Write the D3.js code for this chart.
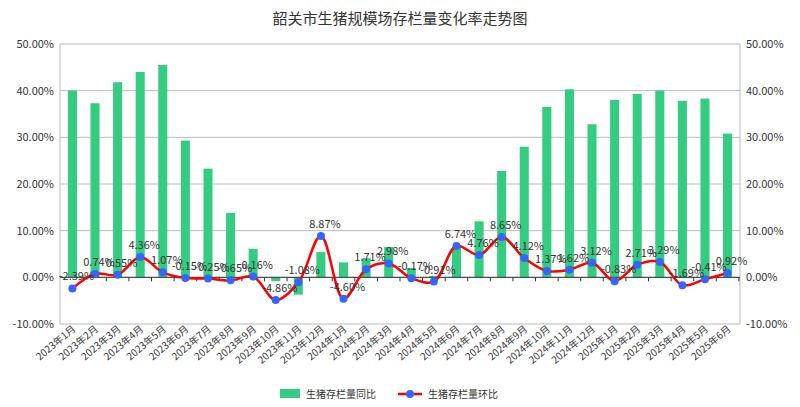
<!DOCTYPE html>
<html><head><meta charset="utf-8">
<script src="https://cdn.jsdelivr.net/npm/d3@7"></script>
<style>body{margin:0;background:#fff;font-family:"Noto Sans CJK SC","DejaVu Sans",sans-serif}</style>
</head><body><svg id="c" width="800" height="407"></svg>
<script>
const months = [];
for (const y of [2023, 2024, 2025]) for (let m = 1; m <= 12; m++) if (!(y === 2025 && m > 6)) months.push(`${y}年${m}月`);
const yoy = [40, 37.3, 41.8, 44, 45.5, 29.3, 23.3, 13.8, 6.1, -0.8, -3.7, 5.4, 3.2, 4.1, 6.5, 2.0, 0.3, 6.5, 12, 22.8, 28, 36.5, 40.3, 32.8, 38, 39.3, 40, 37.8, 38.3, 30.8];
const mom = [-2.39, 0.74, 0.55, 4.36, 1.07, -0.15, -0.25, -0.65, 0.16, -4.86, -1.08, 8.87, -4.60, 1.71, 2.98, -0.17, -0.91, 6.74, 4.76, 8.65, 4.12, 1.37, 1.62, 3.12, -0.83, 2.71, 3.29, -1.69, -0.41, 0.92];
const ticks = [-10, 0, 10, 20, 30, 40, 50];

const svg = d3.select('#c');
const L = 60, R = 740, T = 44, B = 324;
const x = d3.scaleBand().domain(months).range([L, R]).paddingInner(0.6).paddingOuter(0.35);
const y = d3.scaleLinear().domain([-10, 50]).range([B, T]);
const fmt = v => v.toFixed(2) + '%';

svg.append('text').attr('x', 400).attr('y', 24).attr('text-anchor', 'middle')
  .style('font-size', '15px').attr('fill', '#333').text('韶关市生猪规模场存栏量变化率走势图');

ticks.forEach(t => {
  svg.append('line').attr('x1', L).attr('x2', R).attr('y1', y(t)).attr('y2', y(t)).attr('stroke', '#bbb');
  svg.append('text').attr('x', L - 6).attr('y', y(t) + 4).attr('text-anchor', 'end').style('font-size', '11px').attr('fill', '#333').text(fmt(t));
  svg.append('text').attr('x', R + 6).attr('y', y(t) + 4).style('font-size', '11px').attr('fill', '#333').text(fmt(t));
});
svg.append('line').attr('x1', L).attr('x2', L).attr('y1', T).attr('y2', B).attr('stroke', '#bbb');
svg.append('line').attr('x1', R).attr('x2', R).attr('y1', T).attr('y2', B).attr('stroke', '#bbb');

svg.selectAll('.bar').data(yoy).enter().append('rect')
  .attr('x', (d, i) => x(months[i])).attr('width', x.bandwidth())
  .attr('y', d => y(Math.max(0, d))).attr('height', d => Math.abs(y(d) - y(0)))
  .attr('fill', '#33cc80');

const step = x.step();
months.forEach((m, i) => {
  const cx = x(m) + x.bandwidth() / 2;
  svg.append('line').attr('x1', cx + step / 2).attr('x2', cx + step / 2).attr('y1', y(0)).attr('y2', y(0) + 4).attr('stroke', '#333');
  svg.append('text').attr('transform', `translate(${cx + 4},${B + 6}) rotate(-40)`)
    .attr('text-anchor', 'end').style('font-size', '10px').attr('fill', '#333').text(m);
});
svg.append('line').attr('x1', L).attr('x2', R).attr('y1', y(0)).attr('y2', y(0)).attr('stroke', '#333');

const cxOf = i => x(months[i]) + x.bandwidth() / 2;
svg.append('path').datum(mom).attr('fill', 'none').attr('stroke', '#f00').attr('stroke-width', 2.5)
  .attr('d', d3.line().x((d, i) => cxOf(i)).y(d => y(d)).curve(d3.curveCatmullRom));
svg.selectAll('.pt').data(mom).enter().append('circle')
  .attr('cx', (d, i) => cxOf(i)).attr('cy', d => y(d)).attr('r', 4).attr('fill', '#3366ff');
svg.selectAll('.lbl').data(mom).enter().append('text')
  .attr('x', (d, i) => cxOf(i) + 4).attr('y', d => y(d) - 8)
  .attr('text-anchor', 'middle').style('font-size', '11px').attr('fill', '#333').text(fmt);

const lg = svg.append('g').attr('transform', 'translate(280,394)');
lg.append('rect').attr('x', 0).attr('y', -5).attr('width', 20).attr('height', 9).attr('fill', '#33cc80');
lg.append('text').attr('x', 26).attr('y', 4).style('font-size', '10px').attr('fill', '#333').text('生猪存栏量同比');
lg.append('line').attr('x1', 118).attr('x2', 142).attr('y1', 0).attr('y2', 0).attr('stroke', '#f00').attr('stroke-width', 2.5);
lg.append('circle').attr('cx', 130).attr('cy', 0).attr('r', 4).attr('fill', '#3366ff');
lg.append('text').attr('x', 148).attr('y', 4).style('font-size', '10px').attr('fill', '#333').text('生猪存栏量环比');
</script></body></html>
